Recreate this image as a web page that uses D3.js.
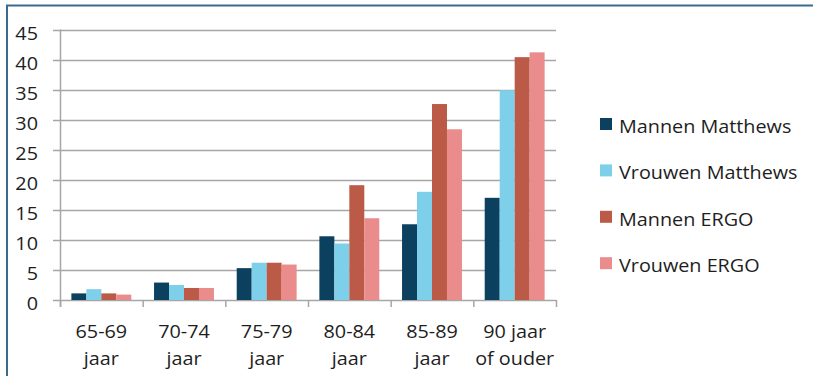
<!DOCTYPE html>
<html>
<head>
<meta charset="utf-8">
<script src="https://cdn.jsdelivr.net/npm/d3@7"></script>
<style>
  html, body { margin: 0; padding: 0; background: #fff; }
  svg { display: block; }
  text { font-family: "Open Sans", "Noto Sans", sans-serif; fill: #1e1e1e; }
</style>
</head>
<body>
<svg id="chart" width="813" height="376"></svg>
<script>
// Age groups (two-line labels)
const categories = ["65-69|jaar", "70-74|jaar", "75-79|jaar", "80-84|jaar", "85-89|jaar", "90 jaar|of ouder"];
const seriesNames = ["Mannen Matthews", "Vrouwen Matthews", "Mannen ERGO", "Vrouwen ERGO"];
const seriesColors = ["#0b405f", "#7dcfea", "#bb5a47", "#e98c8b"];
const mannenMatthews = [1.1, 2.9, 5.3, 10.6, 12.6, 17.0];
const vrouwenMatthews = [1.8, 2.5, 6.2, 9.4, 18.0, 34.9];
const mannenErgo = [1.1, 2.0, 6.2, 19.1, 32.6, 40.4];
const vrouwenErgo = [0.9, 2.0, 5.9, 13.6, 28.4, 41.2];
const yTicks = [0, 5, 10, 15, 20, 25, 30, 35, 40, 45];

const seriesValues = [mannenMatthews, vrouwenMatthews, mannenErgo, vrouwenErgo];

const svg = d3.select("#chart");
const textStretch = 1.1; // the lettering is set slightly wide
const fontSize = 18;

// Places a horizontally widened text label anchored at (px, py)
function wideText(parent, px, py, str, anchor) {
  return parent.append("g")
    .attr("transform", `translate(${px},${py}) scale(${textStretch},1)`)
    .append("text")
    .attr("text-anchor", anchor)
    .attr("font-size", fontSize)
    .text(str);
}

// Frame: top and left edges
svg.append("line").attr("x1", 6).attr("x2", 813).attr("y1", 5.5).attr("y2", 5.5)
  .attr("stroke", "#3b6b8c").attr("stroke-width", 2);
svg.append("line").attr("x1", 7).attr("x2", 7).attr("y1", 5).attr("y2", 376)
  .attr("stroke", "#3b6b8c").attr("stroke-width", 2);

const plotLeft = 60, plotRight = 556, plotTop = 29.5, plotBottom = 300;

const x = d3.scaleBand().domain(categories).range([plotLeft, plotRight]).paddingInner(0).paddingOuter(0);
const x1 = d3.scaleBand().domain(seriesNames).range([0, x.bandwidth()]).paddingInner(0).paddingOuter(0.76);
const y = d3.scaleLinear().domain([0, 45]).range([plotBottom, plotTop]);

// Horizontal gridlines with small ticks left of the axis
svg.append("g").selectAll("line").data(yTicks).join("line")
  .attr("x1", plotLeft - 7).attr("x2", plotRight)
  .attr("y1", d => Math.round(y(d)) + 0.5).attr("y2", d => Math.round(y(d)) + 0.5)
  .attr("stroke", "#a6a6a6").attr("stroke-width", 1.5);

// Y tick labels
const yLab = svg.append("g");
yTicks.forEach(d => wideText(yLab, 38, y(d) + 10, String(d), "end"));

// Bars
const groups = svg.append("g").selectAll("g").data(categories).join("g")
  .attr("transform", c => `translate(${x(c)},0)`);
groups.selectAll("rect")
  .data((c, i) => seriesNames.map((s, j) => ({ s, j, v: seriesValues[j][i] })))
  .join("rect")
  .attr("x", d => x1(d.s))
  .attr("width", x1.bandwidth())
  .attr("y", d => y(d.v))
  .attr("height", d => y(0) - y(d.v))
  .attr("fill", d => seriesColors[d.j]);

// Y axis line
svg.append("line").attr("x1", plotLeft + 0.5).attr("x2", plotLeft + 0.5)
  .attr("y1", plotTop).attr("y2", plotBottom + 7)
  .attr("stroke", "#a6a6a6").attr("stroke-width", 1.5);

// Category boundary ticks below the baseline
const bounds = categories.map(c => x(c)).concat([plotRight]);
svg.append("g").selectAll("line").data(bounds).join("line")
  .attr("x1", d => d + 0.5).attr("x2", d => d + 0.5)
  .attr("y1", plotBottom).attr("y2", plotBottom + 7)
  .attr("stroke", "#a6a6a6").attr("stroke-width", 1.5);

// Category labels, two lines each
const xLab = svg.append("g");
categories.forEach(c => {
  c.split("|").forEach((p, i) => {
    wideText(xLab, x(c) + x.bandwidth() / 2, 337.5 + i * 27, p, "middle");
  });
});

// Legend
const legend = svg.append("g");
seriesNames.forEach((name, i) => {
  const cy = 124 + i * 46.4;
  legend.append("rect").attr("x", 600).attr("y", cy - 6).attr("width", 12).attr("height", 12)
    .attr("fill", seriesColors[i]);
  wideText(legend, 619, cy + 9, name, "start");
});
</script>
</body>
</html>
